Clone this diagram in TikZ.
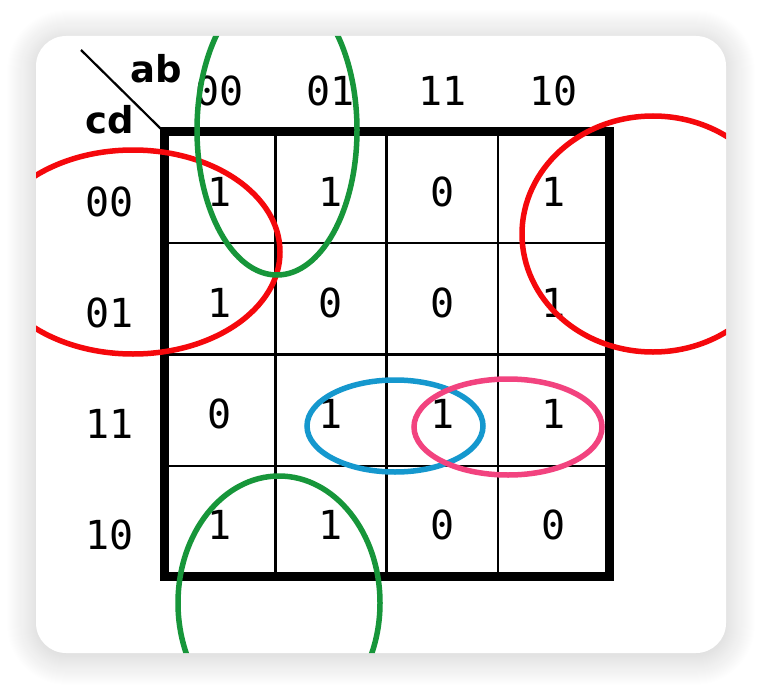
\documentclass[tikz,border=0pt]{standalone}
\usepackage{fontspec}
\newfontfamily\kmono{DejaVu Sans Mono}
\newfontfamily\ksans{DejaVu Sans}
\usepackage{xcolor}
\usetikzlibrary{shadows.blur}
\definecolor{loopred}{HTML}{F5080C}
\definecolor{loopgreen}{HTML}{17963A}
\definecolor{loopblue}{HTML}{1598CE}
\definecolor{looppink}{HTML}{F2437F}

\begin{document}
\begin{tikzpicture}[x=1pt,y=-1pt,
    digit/.style={font=\kmono\fontsize{40}{40}\selectfont, inner sep=0pt},
    cell/.style={digit, draw, line width=2.4pt, outer sep=0pt, minimum size=111.25pt,
      text height=37pt, text depth=0pt},
    varname/.style={font=\ksans\bfseries\fontsize{37}{37}\selectfont, inner sep=0pt, anchor=base},
    loop/.style={line width=5.5pt}]
    \useasboundingbox (0,0) rectangle (762,690);
    \fill[white, rounded corners=30pt,
      blur shadow={shadow xshift=0pt, shadow yshift=-3pt, shadow blur radius=30pt,
        shadow blur steps=30, shadow opacity=22}] (36,36) rectangle (726,653);

    % the map
    \foreach \r/\vals in {1/{1,1,0,1}, 2/{1,0,0,1}, 3/{0,1,1,1}, 4/{1,1,0,0}} {
      \foreach \v [count=\c] in \vals
        \node[cell] (cell-\r-\c) at (219.7+111.25*\c-111.25, 187.6+111.25*\r-111.25) {\v};
    }
    \draw[line width=9pt] (cell-1-1.north west) rectangle (cell-4-4.south east);

    % headings
    \coordinate (slash) at (81,50);
    \draw[line width=2.2pt] (slash) -- (cell-1-1.north west);
    \node[varname] (ab) at (156,83) {ab};
    \node[varname] (cd) at (110,133) {cd};
    \foreach \t [count=\c] in {00,01,11,10} {
      \node[digit] (col-\c) at (219.7+111.25*\c-111.25, 91) {\t};
      \node[digit] (row-\c) at (110, 201.6+111.25*\c-111.25) {\t};
    }

    % groups
    \begin{scope}
      \clip[rounded corners=30pt] (36,36) rectangle (726,653);
      \draw[loop, loopred] (133,252) ellipse [x radius=147, y radius=102];
      \draw[loop, loopred] (653,234) ellipse [x radius=131, y radius=118];
      \draw[loop, loopgreen] (277,130) ellipse [x radius=80, y radius=145];
      \draw[loop, loopgreen] (279,603) ellipse [x radius=101, y radius=127];
      \draw[loop, loopblue] (395,426) ellipse [x radius=88, y radius=46];
      \draw[loop, looppink] (508,427) ellipse [x radius=94, y radius=48];
    \end{scope}
\end{tikzpicture}
\end{document}
